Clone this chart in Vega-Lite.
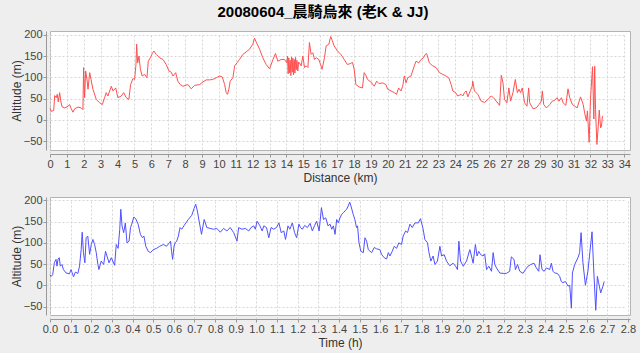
{
 "$schema": "https://vega.github.io/schema/vega-lite/v6.json",
 "background": "#eeeeee",
 "padding": {"left": 9, "top": 5, "right": 8, "bottom": 4},
 "title": {"text": "20080604_晨騎烏來 (老K & JJ)", "fontSize": 15, "fontWeight": "bold", "font": "Liberation Sans, Noto Sans CJK TC", "color": "#000000", "anchor": "middle", "frame": "bounds", "offset": 8},
 "config": {
  "view": {"fill": "white", "stroke": "#b4b4b4"},
  "axis": {"labelFont": "Liberation Sans", "labelFontSize": 11, "labelColor": "#444444", "titleFont": "Liberation Sans", "titleFontSize": 12, "titleFontWeight": "normal", "titleColor": "#333333", "gridColor": "#d6d6d6", "gridDash": [2, 2], "domainColor": "#999999", "tickColor": "#999999", "tickSize": 3, "offset": 4, "labelPadding": 1, "titlePadding": 3},
  "axisY": {"titlePadding": 0}
 },
 "spacing": 9,
 "datasets": {
  "dist": [
   {"km":0,"alt":27},{"km":0.08,"alt":20},{"km":0.22,"alt":22},{"km":0.28,"alt":57},{"km":0.37,"alt":52},{"km":0.43,"alt":60},{"km":0.49,"alt":42},{"km":0.57,"alt":64},{"km":0.65,"alt":42},{"km":0.71,"alt":31},{"km":0.87,"alt":28},{"km":1.07,"alt":32},{"km":1.16,"alt":36},{"km":1.26,"alt":26},{"km":1.36,"alt":18},{"km":1.46,"alt":26},{"km":1.66,"alt":30},{"km":1.85,"alt":28},{"km":1.95,"alt":24},{"km":1.99,"alt":123},{"km":2.05,"alt":52},{"km":2.11,"alt":115},{"km":2.19,"alt":95},{"km":2.25,"alt":72},{"km":2.35,"alt":111},{"km":2.43,"alt":95},{"km":2.54,"alt":72},{"km":2.74,"alt":48},{"km":2.94,"alt":40},{"km":3.10,"alt":36},{"km":3.23,"alt":52},{"km":3.33,"alt":64},{"km":3.43,"alt":56},{"km":3.63,"alt":79},{"km":3.73,"alt":68},{"km":3.89,"alt":75},{"km":4.02,"alt":52},{"km":4.22,"alt":56},{"km":4.36,"alt":64},{"km":4.52,"alt":52},{"km":4.67,"alt":48},{"km":4.77,"alt":83},{"km":4.91,"alt":97},{"km":5.01,"alt":95},{"km":5.09,"alt":130},{"km":5.13,"alt":178},{"km":5.19,"alt":134},{"km":5.27,"alt":150},{"km":5.35,"alt":119},{"km":5.46,"alt":103},{"km":5.60,"alt":107},{"km":5.74,"alt":99},{"km":5.82,"alt":138},{"km":5.94,"alt":146},{"km":6.06,"alt":156},{"km":6.15,"alt":162},{"km":6.29,"alt":154},{"km":6.49,"alt":146},{"km":6.69,"alt":142},{"km":6.88,"alt":130},{"km":7.04,"alt":115},{"km":7.18,"alt":112},{"km":7.28,"alt":103},{"km":7.44,"alt":111},{"km":7.57,"alt":91},{"km":7.71,"alt":83},{"km":7.87,"alt":79},{"km":8.17,"alt":83},{"km":8.36,"alt":73},{"km":8.56,"alt":81},{"km":8.86,"alt":83},{"km":9.05,"alt":89},{"km":9.25,"alt":94},{"km":9.45,"alt":94},{"km":9.64,"alt":95},{"km":9.84,"alt":99},{"km":10.04,"alt":103},{"km":10.20,"alt":101},{"km":10.34,"alt":83},{"km":10.43,"alt":64},{"km":10.51,"alt":60},{"km":10.59,"alt":72},{"km":10.67,"alt":91},{"km":10.83,"alt":99},{"km":10.93,"alt":127},{"km":11.07,"alt":134},{"km":11.22,"alt":142},{"km":11.42,"alt":154},{"km":11.62,"alt":160},{"km":11.81,"alt":166},{"km":12.01,"alt":178},{"km":12.11,"alt":192},{"km":12.21,"alt":183},{"km":12.41,"alt":166},{"km":12.60,"alt":146},{"km":12.80,"alt":130},{"km":13.00,"alt":120},{"km":13.20,"alt":142},{"km":13.35,"alt":156},{"km":13.49,"alt":138},{"km":13.69,"alt":142},{"km":13.89,"alt":142},{"km":14.02,"alt":134},{"km":14.06,"alt":150},{"km":14.10,"alt":108},{"km":14.14,"alt":146},{"km":14.18,"alt":111},{"km":14.22,"alt":140},{"km":14.26,"alt":104},{"km":14.30,"alt":148},{"km":14.34,"alt":112},{"km":14.38,"alt":145},{"km":14.42,"alt":106},{"km":14.46,"alt":142},{"km":14.50,"alt":110},{"km":14.54,"alt":147},{"km":14.58,"alt":118},{"km":14.62,"alt":140},{"km":14.67,"alt":115},{"km":14.72,"alt":136},{"km":14.77,"alt":134},{"km":14.87,"alt":127},{"km":14.97,"alt":150},{"km":15.07,"alt":123},{"km":15.17,"alt":127},{"km":15.27,"alt":123},{"km":15.36,"alt":182},{"km":15.46,"alt":154},{"km":15.56,"alt":158},{"km":15.66,"alt":142},{"km":15.76,"alt":146},{"km":15.92,"alt":142},{"km":16.02,"alt":130},{"km":16.11,"alt":119},{"km":16.25,"alt":146},{"km":16.35,"alt":174},{"km":16.51,"alt":178},{"km":16.62,"alt":196},{"km":16.72,"alt":186},{"km":16.82,"alt":174},{"km":17.02,"alt":162},{"km":17.22,"alt":154},{"km":17.42,"alt":142},{"km":17.61,"alt":130},{"km":17.81,"alt":133},{"km":17.91,"alt":135},{"km":18.01,"alt":119},{"km":18.11,"alt":83},{"km":18.31,"alt":77},{"km":18.50,"alt":75},{"km":18.60,"alt":111},{"km":18.70,"alt":105},{"km":18.80,"alt":95},{"km":19.00,"alt":89},{"km":19.20,"alt":79},{"km":19.34,"alt":91},{"km":19.49,"alt":85},{"km":19.69,"alt":87},{"km":19.89,"alt":83},{"km":19.99,"alt":72},{"km":20.19,"alt":68},{"km":20.38,"alt":64},{"km":20.52,"alt":60},{"km":20.64,"alt":75},{"km":20.78,"alt":68},{"km":20.88,"alt":79},{"km":20.98,"alt":103},{"km":21.08,"alt":87},{"km":21.18,"alt":99},{"km":21.37,"alt":103},{"km":21.57,"alt":127},{"km":21.67,"alt":138},{"km":21.83,"alt":134},{"km":21.97,"alt":142},{"km":22.11,"alt":146},{"km":22.22,"alt":154},{"km":22.30,"alt":156},{"km":22.46,"alt":134},{"km":22.66,"alt":127},{"km":22.86,"alt":123},{"km":23.06,"alt":111},{"km":23.25,"alt":107},{"km":23.45,"alt":103},{"km":23.61,"alt":99},{"km":23.75,"alt":83},{"km":23.85,"alt":68},{"km":24.01,"alt":64},{"km":24.14,"alt":56},{"km":24.34,"alt":60},{"km":24.44,"alt":56},{"km":24.54,"alt":64},{"km":24.64,"alt":68},{"km":24.74,"alt":54},{"km":24.88,"alt":68},{"km":25.00,"alt":79},{"km":25.03,"alt":91},{"km":25.13,"alt":68},{"km":25.33,"alt":60},{"km":25.53,"alt":44},{"km":25.73,"alt":41},{"km":25.93,"alt":48},{"km":26.12,"alt":56},{"km":26.26,"alt":52},{"km":26.42,"alt":44},{"km":26.62,"alt":34},{"km":26.72,"alt":105},{"km":26.82,"alt":87},{"km":26.91,"alt":48},{"km":27.05,"alt":40},{"km":27.17,"alt":75},{"km":27.27,"alt":44},{"km":27.41,"alt":64},{"km":27.55,"alt":95},{"km":27.67,"alt":64},{"km":27.77,"alt":72},{"km":27.86,"alt":64},{"km":27.96,"alt":75},{"km":28.10,"alt":40},{"km":28.24,"alt":32},{"km":28.34,"alt":75},{"km":28.40,"alt":40},{"km":28.60,"alt":26},{"km":28.79,"alt":28},{"km":28.95,"alt":36},{"km":29.09,"alt":44},{"km":29.15,"alt":68},{"km":29.23,"alt":36},{"km":29.39,"alt":28},{"km":29.59,"alt":36},{"km":29.74,"alt":44},{"km":29.88,"alt":46},{"km":30.02,"alt":52},{"km":30.14,"alt":44},{"km":30.28,"alt":52},{"km":30.38,"alt":40},{"km":30.54,"alt":34},{"km":30.67,"alt":73},{"km":30.77,"alt":52},{"km":30.93,"alt":36},{"km":31.07,"alt":32},{"km":31.21,"alt":28},{"km":31.41,"alt":54},{"km":31.57,"alt":36},{"km":31.66,"alt":15},{"km":31.76,"alt":-3},{"km":31.82,"alt":21},{"km":31.92,"alt":-53},{"km":32.00,"alt":48},{"km":32.12,"alt":125},{"km":32.20,"alt":2},{"km":32.25,"alt":126},{"km":32.30,"alt":24},{"km":32.38,"alt":-58},{"km":32.46,"alt":-15},{"km":32.52,"alt":23},{"km":32.60,"alt":-19},{"km":32.65,"alt":-15},{"km":32.71,"alt":9}
  ],
  "time": [
   {"h":0,"alt":25},{"h":0.006,"alt":21},{"h":0.013,"alt":25},{"h":0.021,"alt":53},{"h":0.029,"alt":61},{"h":0.034,"alt":45},{"h":0.039,"alt":62},{"h":0.045,"alt":65},{"h":0.050,"alt":45},{"h":0.058,"alt":49},{"h":0.065,"alt":37},{"h":0.078,"alt":29},{"h":0.094,"alt":27},{"h":0.102,"alt":37},{"h":0.114,"alt":20},{"h":0.123,"alt":31},{"h":0.135,"alt":28},{"h":0.143,"alt":45},{"h":0.151,"alt":84},{"h":0.156,"alt":125},{"h":0.162,"alt":77},{"h":0.169,"alt":53},{"h":0.175,"alt":112},{"h":0.183,"alt":116},{"h":0.192,"alt":73},{"h":0.200,"alt":96},{"h":0.208,"alt":108},{"h":0.216,"alt":96},{"h":0.224,"alt":77},{"h":0.232,"alt":49},{"h":0.237,"alt":37},{"h":0.248,"alt":57},{"h":0.260,"alt":49},{"h":0.269,"alt":80},{"h":0.276,"alt":69},{"h":0.286,"alt":53},{"h":0.297,"alt":65},{"h":0.313,"alt":47},{"h":0.321,"alt":96},{"h":0.330,"alt":87},{"h":0.338,"alt":132},{"h":0.343,"alt":179},{"h":0.349,"alt":140},{"h":0.357,"alt":124},{"h":0.365,"alt":147},{"h":0.373,"alt":100},{"h":0.383,"alt":104},{"h":0.390,"alt":136},{"h":0.396,"alt":144},{"h":0.406,"alt":161},{"h":0.416,"alt":156},{"h":0.427,"alt":144},{"h":0.438,"alt":120},{"h":0.448,"alt":112},{"h":0.455,"alt":116},{"h":0.464,"alt":92},{"h":0.476,"alt":80},{"h":0.487,"alt":77},{"h":0.500,"alt":84},{"h":0.516,"alt":87},{"h":0.532,"alt":92},{"h":0.549,"alt":96},{"h":0.565,"alt":92},{"h":0.578,"alt":100},{"h":0.584,"alt":104},{"h":0.589,"alt":80},{"h":0.594,"alt":61},{"h":0.601,"alt":92},{"h":0.606,"alt":100},{"h":0.614,"alt":104},{"h":0.622,"alt":116},{"h":0.630,"alt":136},{"h":0.638,"alt":132},{"h":0.654,"alt":144},{"h":0.670,"alt":155},{"h":0.687,"alt":165},{"h":0.698,"alt":181},{"h":0.706,"alt":191},{"h":0.714,"alt":175},{"h":0.724,"alt":147},{"h":0.734,"alt":120},{"h":0.747,"alt":155},{"h":0.760,"alt":136},{"h":0.776,"alt":134},{"h":0.792,"alt":132},{"h":0.808,"alt":134},{"h":0.825,"alt":125},{"h":0.841,"alt":134},{"h":0.857,"alt":128},{"h":0.873,"alt":136},{"h":0.890,"alt":124},{"h":0.906,"alt":104},{"h":0.914,"alt":136},{"h":0.930,"alt":132},{"h":0.946,"alt":134},{"h":0.963,"alt":128},{"h":0.974,"alt":136},{"h":0.987,"alt":140},{"h":0.995,"alt":132},{"h":1.003,"alt":151},{"h":1.016,"alt":141},{"h":1.028,"alt":128},{"h":1.036,"alt":140},{"h":1.049,"alt":136},{"h":1.060,"alt":112},{"h":1.071,"alt":136},{"h":1.084,"alt":132},{"h":1.097,"alt":136},{"h":1.109,"alt":147},{"h":1.120,"alt":124},{"h":1.133,"alt":128},{"h":1.141,"alt":108},{"h":1.153,"alt":140},{"h":1.162,"alt":132},{"h":1.174,"alt":147},{"h":1.185,"alt":124},{"h":1.195,"alt":112},{"h":1.206,"alt":144},{"h":1.214,"alt":136},{"h":1.222,"alt":132},{"h":1.234,"alt":141},{"h":1.247,"alt":136},{"h":1.260,"alt":146},{"h":1.271,"alt":128},{"h":1.282,"alt":141},{"h":1.292,"alt":151},{"h":1.304,"alt":128},{"h":1.315,"alt":183},{"h":1.325,"alt":155},{"h":1.336,"alt":159},{"h":1.347,"alt":140},{"h":1.357,"alt":144},{"h":1.365,"alt":132},{"h":1.373,"alt":140},{"h":1.381,"alt":120},{"h":1.389,"alt":155},{"h":1.397,"alt":147},{"h":1.405,"alt":159},{"h":1.413,"alt":167},{"h":1.421,"alt":171},{"h":1.429,"alt":175},{"h":1.437,"alt":179},{"h":1.445,"alt":187},{"h":1.452,"alt":196},{"h":1.458,"alt":187},{"h":1.469,"alt":167},{"h":1.477,"alt":155},{"h":1.485,"alt":136},{"h":1.490,"alt":140},{"h":1.497,"alt":100},{"h":1.506,"alt":80},{"h":1.518,"alt":77},{"h":1.526,"alt":112},{"h":1.534,"alt":104},{"h":1.542,"alt":84},{"h":1.558,"alt":77},{"h":1.571,"alt":89},{"h":1.582,"alt":86},{"h":1.598,"alt":84},{"h":1.606,"alt":73},{"h":1.619,"alt":65},{"h":1.631,"alt":62},{"h":1.639,"alt":77},{"h":1.647,"alt":69},{"h":1.658,"alt":80},{"h":1.668,"alt":92},{"h":1.679,"alt":87},{"h":1.690,"alt":100},{"h":1.703,"alt":96},{"h":1.711,"alt":116},{"h":1.723,"alt":128},{"h":1.732,"alt":124},{"h":1.744,"alt":144},{"h":1.755,"alt":136},{"h":1.768,"alt":147},{"h":1.784,"alt":147},{"h":1.795,"alt":157},{"h":1.808,"alt":132},{"h":1.816,"alt":108},{"h":1.829,"alt":100},{"h":1.835,"alt":80},{"h":1.845,"alt":57},{"h":1.856,"alt":69},{"h":1.865,"alt":49},{"h":1.877,"alt":57},{"h":1.889,"alt":92},{"h":1.897,"alt":69},{"h":1.910,"alt":72},{"h":1.921,"alt":57},{"h":1.937,"alt":46},{"h":1.953,"alt":52},{"h":1.965,"alt":45},{"h":1.974,"alt":37},{"h":1.981,"alt":104},{"h":1.989,"alt":57},{"h":2.002,"alt":45},{"h":2.018,"alt":57},{"h":2.034,"alt":84},{"h":2.042,"alt":69},{"h":2.050,"alt":52},{"h":2.061,"alt":96},{"h":2.069,"alt":69},{"h":2.077,"alt":80},{"h":2.087,"alt":72},{"h":2.098,"alt":69},{"h":2.106,"alt":74},{"h":2.115,"alt":37},{"h":2.126,"alt":45},{"h":2.139,"alt":33},{"h":2.147,"alt":77},{"h":2.155,"alt":49},{"h":2.163,"alt":41},{"h":2.179,"alt":29},{"h":2.195,"alt":28},{"h":2.211,"alt":28},{"h":2.227,"alt":33},{"h":2.235,"alt":67},{"h":2.248,"alt":61},{"h":2.255,"alt":37},{"h":2.265,"alt":49},{"h":2.276,"alt":33},{"h":2.292,"alt":28},{"h":2.303,"alt":37},{"h":2.316,"alt":45},{"h":2.329,"alt":49},{"h":2.345,"alt":52},{"h":2.356,"alt":41},{"h":2.368,"alt":33},{"h":2.374,"alt":72},{"h":2.384,"alt":37},{"h":2.394,"alt":33},{"h":2.405,"alt":41},{"h":2.421,"alt":37},{"h":2.429,"alt":52},{"h":2.437,"alt":33},{"h":2.445,"alt":29},{"h":2.458,"alt":28},{"h":2.469,"alt":21},{"h":2.477,"alt":9},{"h":2.485,"alt":6},{"h":2.497,"alt":9},{"h":2.510,"alt":-2},{"h":2.518,"alt":0},{"h":2.526,"alt":-54},{"h":2.531,"alt":29},{"h":2.542,"alt":49},{"h":2.558,"alt":65},{"h":2.566,"alt":77},{"h":2.573,"alt":124},{"h":2.582,"alt":53},{"h":2.594,"alt":0},{"h":2.606,"alt":33},{"h":2.616,"alt":80},{"h":2.626,"alt":126},{"h":2.635,"alt":29},{"h":2.644,"alt":-59},{"h":2.652,"alt":21},{"h":2.658,"alt":6},{"h":2.668,"alt":-18},{"h":2.679,"alt":-2},{"h":2.685,"alt":9}
  ]
 },
 "vconcat": [
  {
   "width": 580, "height": 119,
   "data": {"name": "dist"},
   "mark": {"type": "line", "color": "#ff5050", "strokeWidth": 1},
   "encoding": {
    "x": {"field": "km", "type": "quantitative", "scale": {"domain": [0, 34.34], "nice": false, "zero": false},
          "axis": {"title": "Distance (km)", "values": [0,1,2,3,4,5,6,7,8,9,10,11,12,13,14,15,16,17,18,19,20,21,22,23,24,25,26,27,28,29,30,31,32,33,34], "labelFlush": false, "labelOverlap": false, "format": "d"}},
    "y": {"field": "alt", "type": "quantitative", "scale": {"domain": [-71, 209], "nice": false},
          "axis": {"title": "Altitude (m)", "values": [-50, 0, 50, 100, 150, 200], "labelFlush": false, "format": "d"}}
   }
  },
  {
   "width": 580, "height": 118,
   "data": {"name": "time"},
   "mark": {"type": "line", "color": "#5050ff", "strokeWidth": 1},
   "encoding": {
    "x": {"field": "h", "type": "quantitative", "scale": {"domain": [0, 2.81], "nice": false, "zero": false},
          "axis": {"title": "Time (h)", "values": [0,0.1,0.2,0.3,0.4,0.5,0.6,0.7,0.8,0.9,1.0,1.1,1.2,1.3,1.4,1.5,1.6,1.7,1.8,1.9,2.0,2.1,2.2,2.3,2.4,2.5,2.6,2.7,2.8], "labelFlush": false, "labelOverlap": false, "format": ".1f"}},
    "y": {"field": "alt", "type": "quantitative", "scale": {"domain": [-70, 208], "nice": false},
          "axis": {"title": "Altitude (m)", "values": [-50, 0, 50, 100, 150, 200], "labelFlush": false, "format": "d"}}
   }
  }
 ]
}
